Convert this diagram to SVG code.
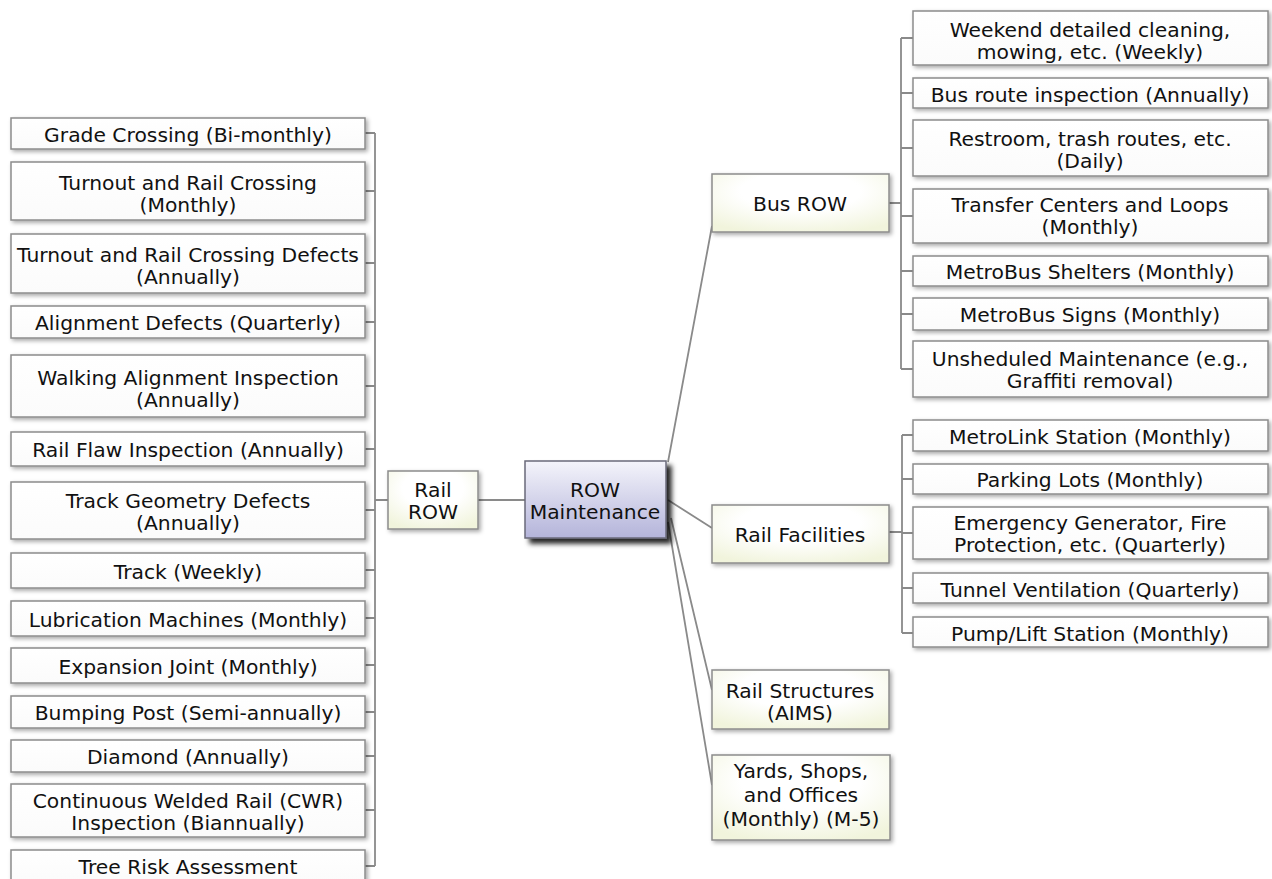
<svg xmlns="http://www.w3.org/2000/svg" width="1272" height="879" viewBox="0 0 1272 879">
<defs>
<linearGradient id="gLeaf" x1="0" y1="0" x2="0" y2="1"><stop offset="0" stop-color="#ffffff"/><stop offset="1" stop-color="#fbfbfb"/></linearGradient>
<radialGradient id="gMid" cx="0.5" cy="0.3" r="0.75"><stop offset="0.45" stop-color="#ffffff"/><stop offset="1" stop-color="#f1f4dc"/></radialGradient>
<linearGradient id="gRoot" x1="0" y1="0" x2="0" y2="1"><stop offset="0" stop-color="#f4f4fb"/><stop offset="1" stop-color="#b4b4da"/></linearGradient>
<filter id="sh" x="-10%" y="-20%" width="125%" height="150%"><feDropShadow dx="2" dy="2" stdDeviation="2" flood-color="#000" flood-opacity="0.35"/></filter>
<filter id="shRoot" x="-10%" y="-20%" width="130%" height="150%"><feDropShadow dx="5" dy="5" stdDeviation="2.5" flood-color="#000" flood-opacity="0.85"/></filter>
</defs>
<style>
.leaf{fill:url(#gLeaf);stroke:#8c8c8c;stroke-width:1.5;filter:url(#sh)}
.mid{fill:url(#gMid);stroke:#8c8c8c;stroke-width:1.5;filter:url(#sh)}
.root{fill:url(#gRoot);stroke:#6a6a7a;stroke-width:1.5;filter:url(#shRoot)}
text{font-family:"DejaVu Sans","Verdana",sans-serif;font-size:20.3px;fill:#111;text-anchor:middle}
.c{fill:none;stroke:#8a8a8a;stroke-width:1.8}
</style>
<rect width="1272" height="879" fill="#ffffff"/>
<g id="connectors">
<path class="c" d="M375 133V866"/>
<path class="c" d="M365 133H375M365 191H375M365 263H375M365 322H375M365 386H375M365 449H375M365 510H375M365 570H375M365 618H375M365 665H375M365 712H375M365 756H375M365 810H375M365 866H375"/>
<path class="c" d="M375 500H388M478 500H525"/>
<path class="c" d="M668 462L712 226M668 500L712 528M671 518L712 690M668 522L712 785"/>
<path class="c" d="M901 38V369M889 203H901"/>
<path class="c" d="M901 38H913M901 93H913M901 148H913M901 216H913M901 271H913M901 314H913M901 369H913"/>
<path class="c" d="M902 435V633M889 532H902"/>
<path class="c" d="M902 435H913M902 479H913M902 533H913M902 588H913M902 633H913"/>
</g>
<g id="l1"><rect class="leaf" x="11" y="118" width="354" height="31"/><text x="188" y="142">Grade Crossing (Bi-monthly)</text></g>
<g id="l2"><rect class="leaf" x="11" y="162" width="354" height="58"/><text x="188" y="190">Turnout and Rail Crossing</text><text x="188" y="212">(Monthly)</text></g>
<g id="l3"><rect class="leaf" x="11" y="234" width="354" height="59"/><text x="188" y="262">Turnout and Rail Crossing Defects</text><text x="188" y="284">(Annually)</text></g>
<g id="l4"><rect class="leaf" x="11" y="306" width="354" height="32"/><text x="188" y="330">Alignment Defects (Quarterly)</text></g>
<g id="l5"><rect class="leaf" x="11" y="355" width="354" height="62"/><text x="188" y="385">Walking Alignment Inspection</text><text x="188" y="407">(Annually)</text></g>
<g id="l6"><rect class="leaf" x="11" y="432" width="354" height="34"/><text x="188" y="457">Rail Flaw Inspection (Annually)</text></g>
<g id="l7"><rect class="leaf" x="11" y="482" width="354" height="57"/><text x="188" y="508">Track Geometry Defects</text><text x="188" y="530">(Annually)</text></g>
<g id="l8"><rect class="leaf" x="11" y="553" width="354" height="35"/><text x="188" y="579">Track (Weekly)</text></g>
<g id="l9"><rect class="leaf" x="11" y="601" width="354" height="35"/><text x="188" y="627">Lubrication Machines (Monthly)</text></g>
<g id="l10"><rect class="leaf" x="11" y="648" width="354" height="35"/><text x="188" y="674">Expansion Joint (Monthly)</text></g>
<g id="l11"><rect class="leaf" x="11" y="696" width="354" height="32"/><text x="188" y="720">Bumping Post (Semi-annually)</text></g>
<g id="l12"><rect class="leaf" x="11" y="740" width="354" height="32"/><text x="188" y="764">Diamond (Annually)</text></g>
<g id="l13"><rect class="leaf" x="11" y="784" width="354" height="53"/><text x="188" y="808">Continuous Welded Rail (CWR)</text><text x="188" y="830">Inspection (Biannually)</text></g>
<g id="l14"><rect class="leaf" x="11" y="850" width="354" height="34"/><text x="188" y="874">Tree Risk Assessment</text></g>
<g id="railrow"><rect class="mid" x="388" y="471" width="90" height="58"/><text x="433" y="497">Rail</text><text x="433" y="519">ROW</text></g>
<g id="root"><rect class="root" x="525" y="461" width="141" height="77"/><text x="595" y="497">ROW</text><text x="595" y="519">Maintenance</text></g>
<g id="busrow"><rect class="mid" x="712" y="174" width="177" height="58"/><text x="800" y="211">Bus ROW</text></g>
<g id="railfac"><rect class="mid" x="712" y="505" width="177" height="58"/><text x="800" y="542">Rail Facilities</text></g>
<g id="railstruct"><rect class="mid" x="712" y="670" width="177" height="59"/><text x="800" y="698">Rail Structures</text><text x="800" y="720">(AIMS)</text></g>
<g id="yards"><rect class="mid" x="712" y="755" width="178" height="85"/><text x="801" y="778">Yards, Shops,</text><text x="801" y="802">and Offices</text><text x="801" y="826">(Monthly) (M-5)</text></g>
<g id="b1"><rect class="leaf" x="913" y="11" width="355" height="54"/><text x="1090" y="37">Weekend detailed cleaning,</text><text x="1090" y="59">mowing, etc. (Weekly)</text></g>
<g id="b2"><rect class="leaf" x="913" y="78" width="355" height="30"/><text x="1090" y="102">Bus route inspection (Annually)</text></g>
<g id="b3"><rect class="leaf" x="913" y="120" width="355" height="56"/><text x="1090" y="146">Restroom, trash routes, etc.</text><text x="1090" y="168">(Daily)</text></g>
<g id="b4"><rect class="leaf" x="913" y="189" width="355" height="54"/><text x="1090" y="212">Transfer Centers and Loops</text><text x="1090" y="234">(Monthly)</text></g>
<g id="b5"><rect class="leaf" x="913" y="256" width="355" height="30"/><text x="1090" y="279">MetroBus Shelters (Monthly)</text></g>
<g id="b6"><rect class="leaf" x="913" y="298" width="355" height="32"/><text x="1090" y="322">MetroBus Signs (Monthly)</text></g>
<g id="b7"><rect class="leaf" x="913" y="341" width="355" height="56"/><text x="1090" y="366">Unsheduled Maintenance (e.g.,</text><text x="1090" y="388">Graffiti removal)</text></g>
<g id="f1"><rect class="leaf" x="913" y="420" width="355" height="31"/><text x="1090" y="444">MetroLink Station (Monthly)</text></g>
<g id="f2"><rect class="leaf" x="913" y="464" width="355" height="30"/><text x="1090" y="487">Parking Lots (Monthly)</text></g>
<g id="f3"><rect class="leaf" x="913" y="507" width="355" height="52"/><text x="1090" y="530">Emergency Generator, Fire</text><text x="1090" y="552">Protection, etc. (Quarterly)</text></g>
<g id="f4"><rect class="leaf" x="913" y="573" width="355" height="30"/><text x="1090" y="597">Tunnel Ventilation (Quarterly)</text></g>
<g id="f5"><rect class="leaf" x="913" y="617" width="355" height="30"/><text x="1090" y="641">Pump/Lift Station (Monthly)</text></g>
</svg>
